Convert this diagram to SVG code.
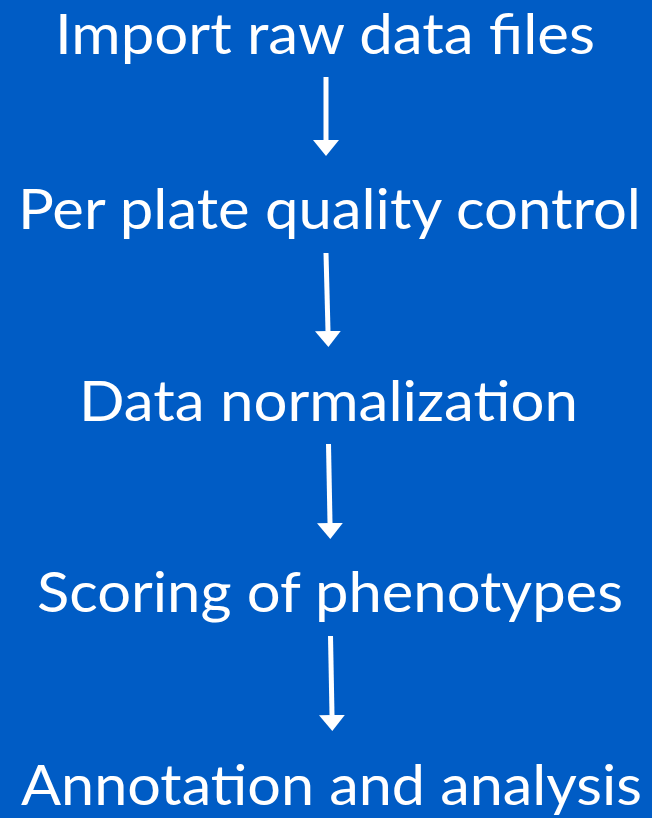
<svg xmlns="http://www.w3.org/2000/svg" width="652" height="818" viewBox="0 0 652 818">
  <style>
    .bg { fill: #005CC5; }
    .label { font-family: Lato, "Open Sans", "Liberation Sans", sans-serif; font-size: 56px; fill: #FFFFFF; }
    .conn { stroke: #FFFFFF; stroke-width: 5; fill: none; marker-end: url(#head); }
  </style>
  <defs>
    <marker id="head" markerUnits="userSpaceOnUse" markerWidth="16" markerHeight="26" viewBox="0 0 16 26" refX="0" refY="13" orient="auto">
      <path d="M0,0 L16,13 L0,26 Z" fill="#FFFFFF"/>
    </marker>
  </defs>
  <rect class="bg" x="0" y="0" width="652" height="818"/>
  <g id="node-import">
    <text class="label" x="55" y="53.5" textLength="540" lengthAdjust="spacingAndGlyphs">Import raw data files</text>
  </g>
  <g id="node-qc">
    <text class="label" x="18" y="229" textLength="623" lengthAdjust="spacingAndGlyphs">Per plate quality control</text>
  </g>
  <g id="node-normalization">
    <text class="label" x="79" y="421" textLength="499" lengthAdjust="spacingAndGlyphs">Data normalization</text>
  </g>
  <g id="node-scoring">
    <text class="label" x="37" y="612" textLength="586" lengthAdjust="spacingAndGlyphs">Scoring of phenotypes</text>
  </g>
  <g id="node-annotation">
    <text class="label" x="21" y="805" textLength="621" lengthAdjust="spacingAndGlyphs">Annotation and analysis</text>
  </g>
  <g id="connectors">
    <line class="conn" x1="326" y1="77" x2="326" y2="140"/>
    <line class="conn" x1="326" y1="253" x2="328" y2="331"/>
    <line class="conn" x1="328.5" y1="444" x2="330" y2="523"/>
    <line class="conn" x1="330.5" y1="636" x2="332" y2="715"/>
  </g>
</svg>
